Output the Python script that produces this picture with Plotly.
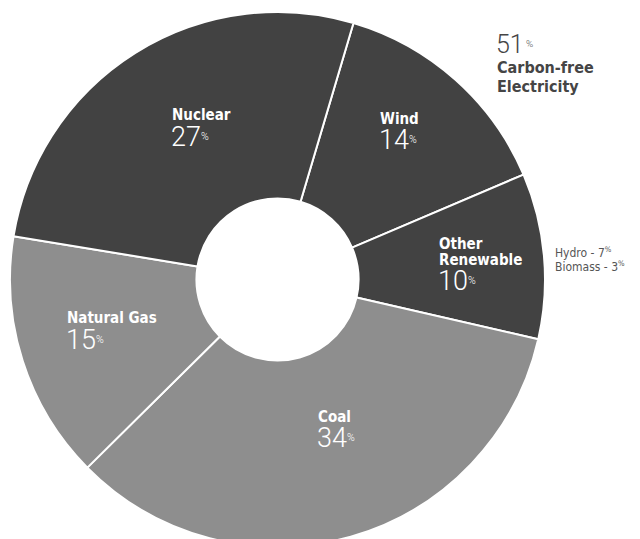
import plotly.graph_objects as go

# ---- data ----
labels = ["Wind", "Other Renewable", "Coal", "Natural Gas", "Nuclear"]
display_names = [["Wind"], ["Other", "Renewable"], ["Coal"], ["Natural Gas"], ["Nuclear"]]
values = [14, 10, 34, 15, 27]
carbon_free = 51
carbon_free_label = ["Carbon-free", "Electricity"]
other_renew_parts = ["Hydro", "Biomass"]
other_renew_values = [7, 3]

DARK = "#424242"
LIGHT = "#8e8e8e"
colors = [DARK, DARK, LIGHT, LIGHT, DARK]

W, H = 640, 539
MT = 4
OFF = 8  # page body margin offset of the rendered figure

fig = go.Figure(go.Pie(
    labels=labels,
    values=values,
    sort=False,
    direction="clockwise",
    rotation=16.5,
    hole=0.303,
    textinfo="none",
    marker=dict(colors=colors, line=dict(color="white", width=2)),
    domain=dict(x=[0, 539 / W], y=[0, 1]),
    showlegend=False,
))

def px(x, y):
    # screen pixel -> paper coords
    xf, yf = x - OFF - 2, y - OFF
    return xf / W, (H - yf) / (H - MT)

NAME_FONT = "Liberation Sans Narrow, Arial Narrow, DejaVu Sans Condensed, sans-serif"
NUM_FONT = "Roboto, Lato, sans-serif"

# label placement (screen pixels): left x, center y of first name line, line step, number center y
anchors = {
    "Nuclear": (172, 115, 0, 137),
    "Wind": (380, 119, 0, 140),
    "Other Renewable": (439, 244, 16, 281),
    "Natural Gas": (67, 318, 0, 340),
    "Coal": (318, 417, 0, 438),
}

annotations = []

def add(x, y, text, font):
    xp, yp = px(x, y)
    annotations.append(dict(
        x=xp, y=yp, xref="paper", yref="paper", xanchor="left", yanchor="middle",
        text=text, showarrow=False, align="left", font=font,
    ))

for lab, names, val in zip(labels, display_names, values):
    ax, ay, step, ny = anchors[lab]
    for i, nm in enumerate(names):
        add(ax, ay + i * step, "<b>" + nm + "</b>",
            dict(family=NAME_FONT, size=15, color="white"))
    add(ax - 1, ny, f"{val}<span style='font-size:15px'><sup>%</sup></span>",
        dict(family=NUM_FONT, size=27, color="white", weight=300))

# carbon-free callout
add(496, 44, f"{carbon_free}<span style='font-size:14px'><sup> %</sup></span>",
    dict(family=NUM_FONT, size=25, color="#454545", weight=300))
for i, t in enumerate(carbon_free_label):
    add(497, 67 + i * 19, "<b>" + t + "</b>",
        dict(family=NAME_FONT, size=16, color="#454545"))

# other renewable breakdown
for i, (n, v) in enumerate(zip(other_renew_parts, other_renew_values)):
    add(555, 252 + i * 14, f"{n} - {v}<span style='font-size:11px'><sup>%</sup></span>",
        dict(family=NAME_FONT, size=12, color="#555555"))

fig.update_layout(
    width=W, height=H,
    margin=dict(l=0, r=0, t=MT, b=0),
    paper_bgcolor="white", plot_bgcolor="white",
    annotations=annotations,
)

fig.write_html("out.html")
